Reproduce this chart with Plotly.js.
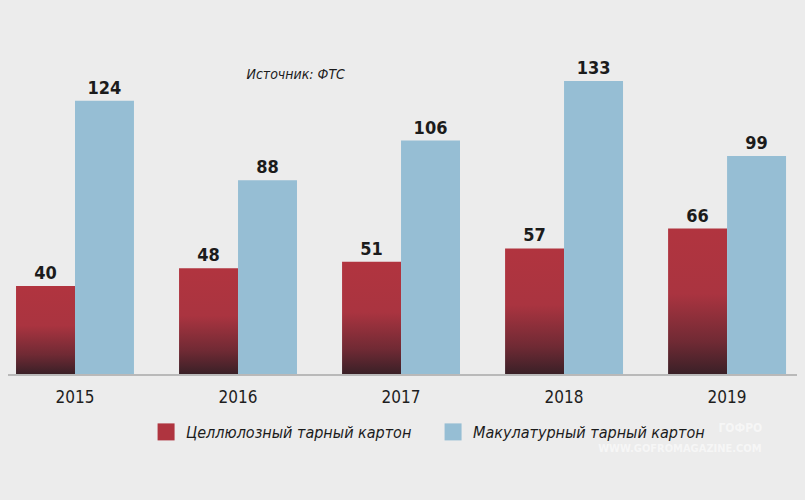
<!DOCTYPE html>
<html>
<head>
<meta charset="utf-8">
<script src="https://cdn.plot.ly/plotly-3.0.1.min.js"></script>
<style>
  html, body { margin: 0; padding: 0; background: #ececec; }
  #chart { width: 805px; height: 500px; }
  #chart text { font-stretch: condensed; }
</style>
</head>
<body>
<div id="chart"></div>
<script>
// years and values
var years = ["2015", "2016", "2017", "2018", "2019"];
var celluloseBoard = [40, 48, 51, 57, 66];
var recycledBoard = [124, 88, 106, 133, 99];
var seriesNames = ["Целлюлозный тарный картон", "Макулатурный тарный картон"];

var condensed = "'DejaVu Sans', sans-serif";

var data = [
  {
    type: "bar",
    name: seriesNames[0],
    x: years,
    y: celluloseBoard,
    text: celluloseBoard.map(String),
    textposition: "outside",
    cliponaxis: false,
    constraintext: "none",
    textfont: { family: condensed, size: 18, color: "#1b1b1b", weight: "bold" },
    marker: { color: "#af343f", line: { width: 0 } },
    hoverinfo: "none"
  },
  {
    type: "bar",
    name: seriesNames[1],
    x: years,
    y: recycledBoard,
    text: recycledBoard.map(String),
    textposition: "outside",
    cliponaxis: false,
    constraintext: "none",
    textfont: { family: condensed, size: 18, color: "#1b1b1b", weight: "bold" },
    marker: { color: "#96bed4", line: { width: 0 } },
    hoverinfo: "none"
  }
];

var layout = {
  width: 805,
  height: 500,
  margin: { t: 20, b: 126, l: 8, r: 8 },
  paper_bgcolor: "#ececec",
  plot_bgcolor: "#ececec",
  barmode: "group",
  bargap: 0.2765,
  bargroupgap: 0,
  showlegend: true,
  font: { family: condensed, color: "#1b1b1b" },
  xaxis: {
    type: "category",
    range: [-0.411, 4.429],
    showline: true,
    linecolor: "#b9b9b9",
    linewidth: 2,
    showgrid: false,
    zeroline: false,
    ticks: "",
    tickfont: { family: condensed, size: 17, color: "#1e1e1e" },
    ticklabelstandoff: 7,
    fixedrange: true
  },
  yaxis: {
    range: [0, 160.7],
    visible: false,
    showgrid: false,
    zeroline: false,
    fixedrange: true
  },
  legend: {
    orientation: "h",
    x: 0.175,
    xanchor: "left",
    y: (500 - 432) / 500,
    yref: "container",
    yanchor: "middle",
    entrywidth: 242,
    bgcolor: "rgba(0,0,0,0)",
    font: { family: condensed, size: 16, color: "#1b1b1b", style: "italic" }
  },
  annotations: [
    {
      text: "Источник: ФТС",
      xref: "paper", yref: "paper",
      x: (296 - 8) / 789, y: (374 - 74) / 354,
      xanchor: "center", yanchor: "middle",
      showarrow: false,
      font: { family: condensed, size: 14, color: "#1b1b1b", style: "italic" }
    },
    {
      text: "<b>ГОФРО</b>",
      xref: "paper", yref: "paper",
      x: (740 - 8) / 789, y: (374 - 428) / 354,
      xanchor: "center", yanchor: "middle",
      showarrow: false,
      font: { family: condensed, size: 12, color: "rgba(255,255,255,0.55)" }
    },
    {
      text: "<b>WWW.GOFROMAGAZINE.COM</b>",
      xref: "paper", yref: "paper",
      x: (680 - 8) / 789, y: (374 - 449) / 354,
      xanchor: "center", yanchor: "middle",
      showarrow: false,
      font: { family: condensed, size: 11, color: "rgba(255,255,255,0.55)" }
    }
  ]
};

Plotly.newPlot("chart", data, layout, { staticPlot: true }).then(function (gd) {
  // dark-red fade to the bottom of each red bar, as in the original
  var svg = gd.querySelector(".main-svg");
  var ns = "http://www.w3.org/2000/svg";
  var defs = svg.querySelector("defs") || svg.insertBefore(document.createElementNS(ns, "defs"), svg.firstChild);
  var grad = document.createElementNS(ns, "linearGradient");
  grad.setAttribute("id", "redFade");
  grad.setAttribute("x1", "0"); grad.setAttribute("y1", "0");
  grad.setAttribute("x2", "0"); grad.setAttribute("y2", "1");
  [["0", "#b1343f"], ["0.45", "#aa3440"], ["0.78", "#702a34"], ["1", "#3a2027"]].forEach(function (s) {
    var stop = document.createElementNS(ns, "stop");
    stop.setAttribute("offset", s[0]);
    stop.setAttribute("stop-color", s[1]);
    grad.appendChild(stop);
  });
  defs.appendChild(grad);

  var traces = gd.querySelectorAll(".barlayer .trace");
  traces[0].querySelectorAll(".point path").forEach(function (p) {
    p.style.fill = "url(#redFade)";
  });

  // bigger legend squares
  gd.querySelectorAll(".legendpoints path").forEach(function (p) {
    p.setAttribute("d", "M8.5,8.5H-8.5V-8.5H8.5Z");
  });
});
</script>
</body>
</html>
